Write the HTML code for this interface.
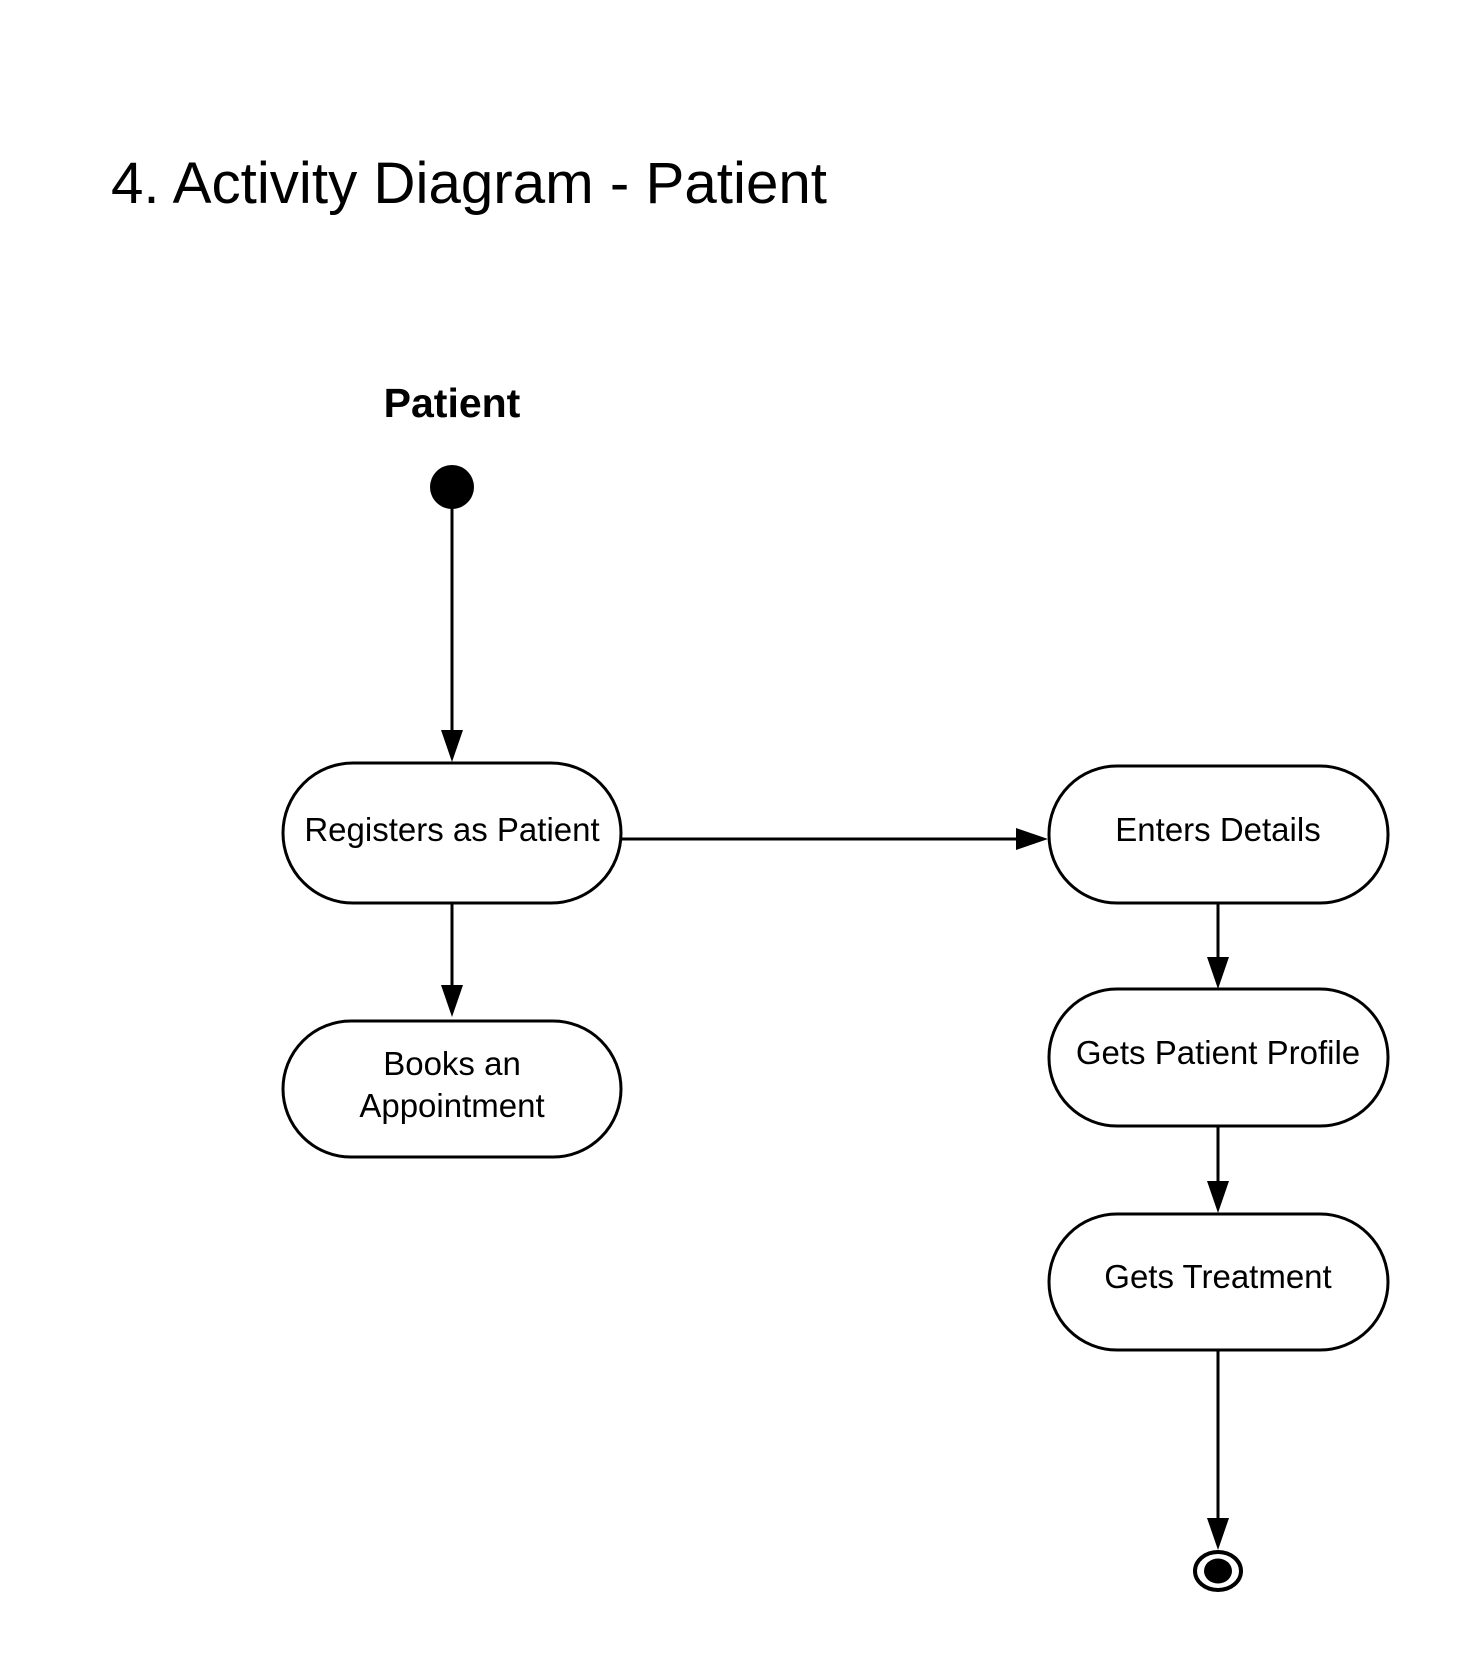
<!DOCTYPE html>
<html><head><meta charset="utf-8"><style>html,body{margin:0;padding:0;background:#fff}svg{display:block}</style></head>
<body>
<svg width="1463" height="1667" viewBox="0 0 1463 1667" xmlns="http://www.w3.org/2000/svg" font-family="Liberation Sans, Arial, sans-serif">
<rect width="1463" height="1667" fill="#fff"/>
<text x="111" y="203" font-size="58" textLength="716" lengthAdjust="spacingAndGlyphs">4. Activity Diagram - Patient</text>
<text x="452" y="417" font-size="41" font-weight="bold" text-anchor="middle">Patient</text>
<circle cx="452" cy="487" r="22" fill="#000"/>
<g stroke="#000" stroke-width="3" fill="none">
<line x1="452" y1="500" x2="452" y2="735"/>
<line x1="452" y1="903" x2="452" y2="990"/>
<line x1="621" y1="839" x2="1020" y2="839"/>
<line x1="1218" y1="903" x2="1218" y2="962"/>
<line x1="1218" y1="1126" x2="1218" y2="1186"/>
<line x1="1218" y1="1350" x2="1218" y2="1523"/>
<rect x="283" y="763" width="338" height="140" rx="70"/>
<rect x="283" y="1021" width="338" height="136" rx="68"/>
<rect x="1049" y="766" width="339" height="137" rx="68"/>
<rect x="1049" y="989" width="339" height="137" rx="68"/>
<rect x="1049" y="1214" width="339" height="136" rx="68"/>
<ellipse cx="1218" cy="1571" rx="23" ry="19" stroke-width="4"/>
</g>
<ellipse cx="1218" cy="1571" rx="14" ry="12.5" fill="#000"/>
<g fill="#000">
<polygon points="441,730 463,730 452,762"/>
<polygon points="441,985 463,985 452,1017"/>
<polygon points="1016,828 1016,850 1048,839"/>
<polygon points="1207,957 1229,957 1218,989"/>
<polygon points="1207,1181 1229,1181 1218,1213"/>
<polygon points="1207,1518 1229,1518 1218,1550"/>
</g>
<g font-size="33" text-anchor="middle">
<text x="452" y="841">Registers as Patient</text>
<text x="452" y="1075">Books an</text>
<text x="452" y="1117">Appointment</text>
<text x="1218" y="841">Enters Details</text>
<text x="1218" y="1064">Gets Patient Profile</text>
<text x="1218" y="1288">Gets Treatment</text>
</g>
</svg>
</body></html>
